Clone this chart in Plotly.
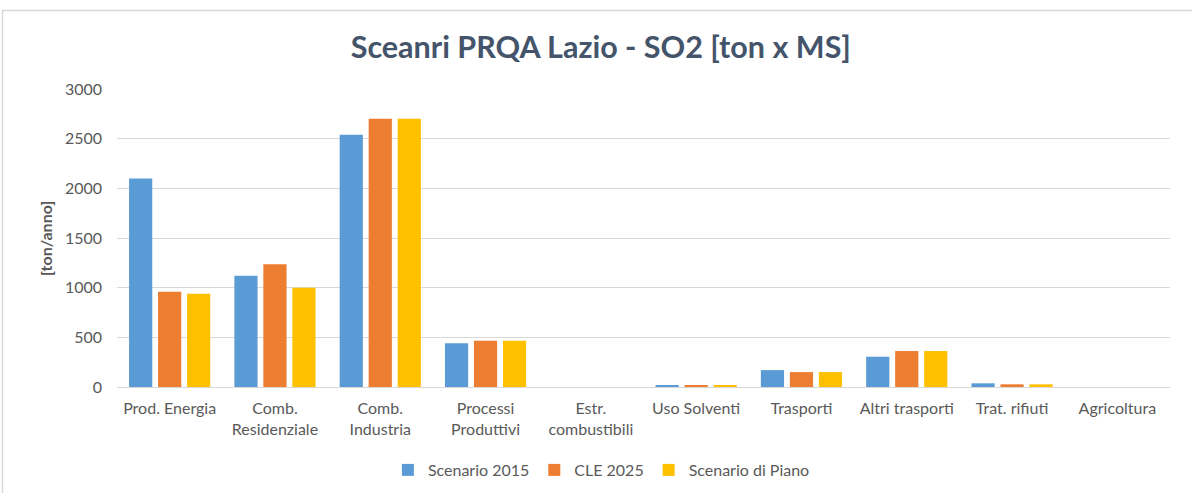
import plotly.graph_objects as go

# Emission sectors (x categories)
categories = [
    "Prod. Energia", "Comb.<br>Residenziale", "Comb.<br>Industria",
    "Processi<br>Produttivi", "Estr.<br>combustibili", "Uso Solventi",
    "Trasporti", "Altri trasporti", "Trat. rifiuti", "Agricoltura",
]

# SO2 emissions [ton/anno] per scenario
scenario_2015 = [2100, 1120, 2540, 440, 0, 15, 170, 305, 37, 0]
cle_2025 = [960, 1235, 2700, 465, 0, 12, 150, 362, 27, 0]
scenario_piano = [940, 1000, 2700, 465, 0, 12, 150, 362, 27, 0]

series_names = ["Scenario 2015", "CLE 2025", "Scenario di Piano"]
y_ticks = [0, 500, 1000, 1500, 2000, 2500, 3000]

fill_colors = ["#5B9BD5", "#ED7D31", "#FFC000"]

FONT = "Lato"
TEXT_GREY = "#595959"

fig = go.Figure()
for name, vals, fc in zip(series_names,
                          [scenario_2015, cle_2025, scenario_piano],
                          fill_colors):
    fig.add_trace(go.Bar(
        name=name, x=categories, y=vals,
        marker=dict(color=fc, line=dict(width=0)),
    ))

W, H = 1192, 493
L, R, T, B = 117, 22, 89, 106
pw, ph = W - L - R, H - T - B

def px_x(px):
    return (px - L) / pw

def px_y(py):
    return (H - B - py) / ph

fig.update_layout(
    width=W, height=H,
    margin=dict(l=L, r=R, t=T, b=B, autoexpand=False),
    paper_bgcolor="white", plot_bgcolor="white",
    barmode="group", bargap=0.174, bargroupgap=0.2,
    font=dict(family=FONT, color=TEXT_GREY, size=16),
    title=dict(
        text="<b>Sceanri PRQA Lazio - SO2 [ton x MS]</b>",
        x=0.504, xanchor="center", y=1 - 47 / H, yanchor="middle",
        yref="container",
        font=dict(family=FONT, size=30.5, color="#44546A"),
    ),
    xaxis=dict(
        showgrid=False, showline=False, ticks="", automargin=False,
        ticklabelstandoff=10,
        tickfont=dict(size=16, color=TEXT_GREY),
    ),
    yaxis=dict(
        range=[0, 3000], tickvals=y_ticks, automargin=False,
        showgrid=True, gridcolor="#D9D9D9", gridwidth=1,
        zeroline=True, zerolinecolor="#D9D9D9", zerolinewidth=1,
        showline=False, ticks="", ticklabelstandoff=14,
        tickfont=dict(size=16, color=TEXT_GREY),
    ),
    legend=dict(
        orientation="h", x=0.46, xanchor="center",
        y=px_y(470), yanchor="middle",
        font=dict(size=16, color=TEXT_GREY),
        itemwidth=30,
    ),
    showlegend=True,
)

# Y-axis title
fig.add_annotation(
    text="<b>[ton/anno]</b>", textangle=-90,
    x=px_x(45), y=px_y(238), xref="paper", yref="paper",
    xanchor="center", yanchor="middle",
    showarrow=False, font=dict(size=16, color=TEXT_GREY, family=FONT),
)

# Outer chart frame
fig.add_shape(
    type="rect", xref="paper", yref="paper",
    x0=px_x(2.5), x1=px_x(1210), y0=px_y(10.5), y1=px_y(520),
    line=dict(color="#D9D9D9", width=1.5), layer="below",
)

fig.write_html("out.html")
